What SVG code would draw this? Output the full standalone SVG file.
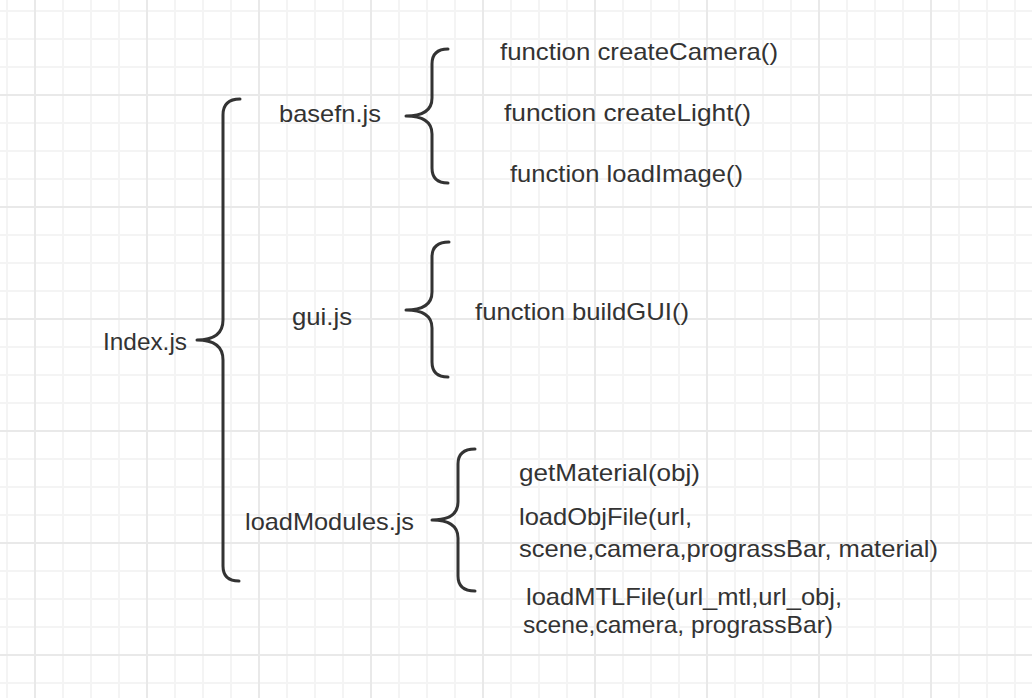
<svg xmlns="http://www.w3.org/2000/svg" width="1032" height="698" viewBox="0 0 1032 698">
  <style>
    .t { font-family: "Liberation Sans", Arial, sans-serif; font-size: 24px; fill: #333333; }
    .brace { fill: none; stroke: #333333; stroke-width: 3; stroke-linecap: round; stroke-linejoin: round; }
  </style>
  <defs>
    <pattern id="minor" width="28" height="28" patternUnits="userSpaceOnUse" x="6" y="10">
      <rect x="0" y="0" width="2" height="28" fill="#f4f4f4"/>
      <rect x="0" y="0" width="28" height="2" fill="#f4f4f4"/>
    </pattern>
    <pattern id="major" width="112" height="112" patternUnits="userSpaceOnUse" x="34" y="94">
      <rect x="0" y="0" width="2" height="112" fill="#e9e9e9"/>
      <rect x="0" y="0" width="112" height="2" fill="#e9e9e9"/>
    </pattern>
  </defs>
  <rect width="1032" height="698" fill="#ffffff"/>
  <rect width="1032" height="698" fill="url(#minor)"/>
  <rect width="1032" height="698" fill="url(#major)"/>

  <g id="connectors">
    <path class="brace" d="M240,99 Q223,99 223,115 L223,320 Q223,340 197,340 Q223,340 223,360 L223,566 Q223,581 239,581"/>
    <path class="brace" d="M448,49 Q432,49 432,64 L432,98 Q432,116 406,116 Q432,116 432,134 L432,168 Q432,183 448,183"/>
    <path class="brace" d="M449,242 Q432,242 432,257 L432,292 Q432,310 406,310 Q432,310 432,328 L432,362 Q432,377 448,377"/>
    <path class="brace" d="M475,449 Q458,449 458,464 L458,502 Q458,520 432,520 Q458,520 458,538 L458,576 Q458,591 475,591"/>
  </g>

  <g id="index">
    <text class="t" x="103" y="350" textLength="84" lengthAdjust="spacingAndGlyphs">Index.js</text>
  </g>
  <g id="basefn">
    <text class="t" x="279" y="122" textLength="102" lengthAdjust="spacingAndGlyphs">basefn.js</text>
  </g>
  <g id="gui">
    <text class="t" x="292" y="325" textLength="60" lengthAdjust="spacingAndGlyphs">gui.js</text>
  </g>
  <g id="loadModules">
    <text class="t" x="245" y="530" textLength="169" lengthAdjust="spacingAndGlyphs">loadModules.js</text>
  </g>
  <g id="createCamera">
    <text class="t" x="500" y="60" textLength="278" lengthAdjust="spacingAndGlyphs">function createCamera()</text>
  </g>
  <g id="createLight">
    <text class="t" x="504" y="121" textLength="247" lengthAdjust="spacingAndGlyphs">function createLight()</text>
  </g>
  <g id="loadImage">
    <text class="t" x="510" y="182" textLength="233" lengthAdjust="spacingAndGlyphs">function loadImage()</text>
  </g>
  <g id="buildGUI">
    <text class="t" x="475" y="320" textLength="214" lengthAdjust="spacingAndGlyphs">function buildGUI()</text>
  </g>
  <g id="getMaterial">
    <text class="t" x="519" y="481" textLength="181" lengthAdjust="spacingAndGlyphs">getMaterial(obj)</text>
  </g>
  <g id="loadObjFile">
    <text class="t" x="519" y="525" textLength="173" lengthAdjust="spacingAndGlyphs">loadObjFile(url,</text>
    <text class="t" x="519" y="557" textLength="419" lengthAdjust="spacingAndGlyphs">scene,camera,prograssBar, material)</text>
  </g>
  <g id="loadMTLFile">
    <text class="t" x="526" y="605" textLength="316" lengthAdjust="spacingAndGlyphs">loadMTLFile(url_mtl,url_obj,</text>
    <text class="t" x="523" y="633" textLength="310" lengthAdjust="spacingAndGlyphs">scene,camera, prograssBar)</text>
  </g>
</svg>
